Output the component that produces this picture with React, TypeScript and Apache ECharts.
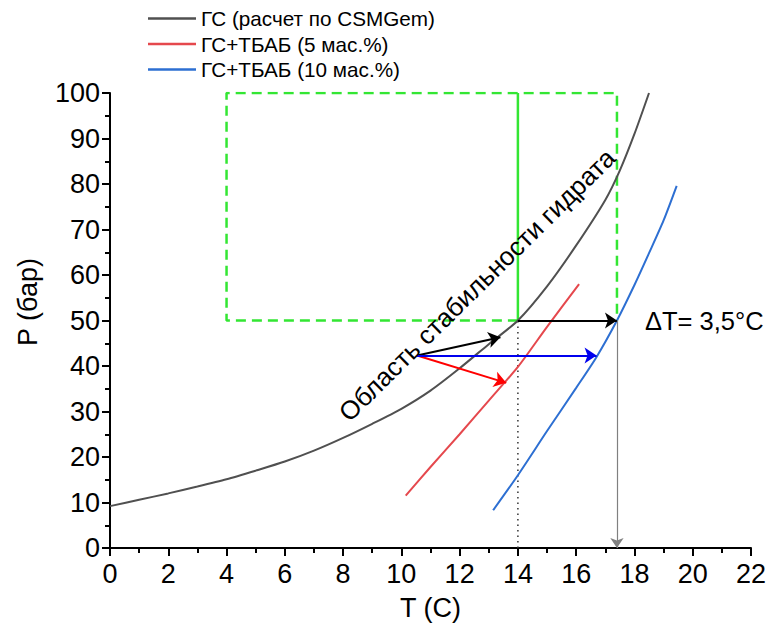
import React, { useEffect, useRef } from "react";
import * as echarts from "echarts";

const blackT = [0, 1, 2, 3, 4, 5, 6, 7, 8, 9, 10, 11, 12, 13, 14, 15, 16, 17, 17.5, 18, 18.5];
const blackP = [9.2, 10.6, 12, 13.5, 15.1, 17, 19, 21.4, 24.2, 27.3, 30.6, 34.6, 39.5, 44.8, 50, 57.5, 66.5, 76.5, 83, 91, 100];

const redT = [10.15, 11, 12, 13, 14, 15, 16.1];
const redP = [11.5, 17.8, 25, 32.4, 39.8, 48.6, 58];

const blueT = [13.15, 14, 15, 16, 16.7, 17.4, 18, 18.5, 19, 19.45];
const blueP = [8.3, 16, 25.7, 35.2, 42, 50, 57.8, 64.8, 72, 79.6];

const greenDashT = [14, 4, 4, 14, 17.4, 17.4];
const greenDashP = [50, 50, 100, 100, 100, 50];
const greenSolidT = [14, 14];
const greenSolidP = [50, 100];

const dottedT = [14, 14];
const dottedP = [0, 50];

const arrowStart = [10.54, 42.3];
const blackArrowEnd = [13.4, 46.3];
const redArrowEnd = [13.6, 36.3];
const blueArrowEnd = [16.7, 42.3];
const deltaArrow = [[14, 50], [17.4, 50]];
const downArrow = [[17.4, 50], [17.4, 0]];

const names = ["ГС (расчет по CSMGem)", "ГС+ТБАБ (5 мас.%)", "ГС+ТБАБ (10 мас.%)"];

const xMin = 0, xMax = 22, xStep = 2;
const yMin = 0, yMax = 100, yStep = 10;

const zip = (a: number[], b: number[]) => a.map((v, i) => [v, b[i]]);

const FONT = "'Liberation Sans', Arial, sans-serif";

export default function App() {
  const ref = useRef<HTMLDivElement>(null);
  useEffect(() => {
    if (!ref.current) return;
    const chart = echarts.init(ref.current, null, { renderer: "svg" });
    const arrowSeries = (name: string, coords: number[][], color: string, width: number, size: number) => ({
      name,
      type: "lines",
      coordinateSystem: "cartesian2d",
      symbol: ["none", "arrow"],
      symbolSize: size,
      silent: true,
      lineStyle: { color, width, opacity: 1, curveness: 0 },
      data: [{ coords }],
      z: 5,
    });
    const curve = (name: string, t: number[], p: number[], color: string) => ({
      name,
      type: "line",
      data: zip(t, p),
      smooth: 0.25,
      showSymbol: false,
      symbol: "none",
      lineStyle: { color, width: 2 },
      itemStyle: { color },
      z: 3,
    });
    chart.setOption({
      animation: false,
      textStyle: { fontFamily: FONT },
      grid: { left: 102, right: 12, top: 85, bottom: 82 },
      legend: {
        data: names.map((n) => ({ name: n, icon: "rect" })),
        orient: "vertical",
        left: 140,
        top: 0,
        padding: 0,
        itemWidth: 48,
        itemHeight: 2.5,
        itemGap: 4.5,
        textStyle: { fontSize: 20.7, color: "#000", fontFamily: FONT, lineHeight: 20.5 },
      },
      xAxis: {
        type: "value",
        min: xMin,
        max: xMax,
        interval: xStep,
        name: "T (C)",
        nameLocation: "middle",
        nameGap: 46,
        nameTextStyle: { fontSize: 27, color: "#000", fontFamily: FONT },
        axisLine: { show: true, lineStyle: { color: "#000", width: 2 } },
        axisTick: { show: true, inside: false, length: 8, lineStyle: { color: "#000", width: 2 } },
        minorTick: { show: true, splitNumber: 2, length: 5, lineStyle: { color: "#000", width: 2 } },
        axisLabel: { fontSize: 27, color: "#000", margin: 12, fontFamily: FONT },
        splitLine: { show: false },
      },
      yAxis: {
        type: "value",
        min: yMin,
        max: yMax,
        interval: yStep,
        axisLine: { show: true, lineStyle: { color: "#000", width: 2 } },
        axisTick: { show: true, inside: false, length: 8, lineStyle: { color: "#000", width: 2 } },
        minorTick: { show: true, splitNumber: 2, length: 5, lineStyle: { color: "#000", width: 2 } },
        axisLabel: { fontSize: 27, color: "#000", margin: 10, fontFamily: FONT },
        splitLine: { show: false },
      },
      series: [
        curve(names[0], blackT, blackP, "#505050"),
        curve(names[1], redT, redP, "#e5484d"),
        curve(names[2], blueT, blueP, "#2d6fd2"),
        {
          name: "greenDash",
          type: "line",
          data: zip(greenDashT, greenDashP),
          showSymbol: false,
          symbol: "none",
          silent: true,
          lineStyle: { color: "#33e633", width: 2.5, type: [10, 6] },
          z: 2,
        },
        {
          name: "greenSolid",
          type: "line",
          data: zip(greenSolidT, greenSolidP),
          showSymbol: false,
          symbol: "none",
          silent: true,
          lineStyle: { color: "#33e633", width: 2.5 },
          z: 2,
        },
        {
          name: "dotted",
          type: "line",
          data: zip(dottedT, dottedP),
          showSymbol: false,
          symbol: "none",
          silent: true,
          lineStyle: { color: "#333", width: 1.5, type: [1.5, 4] },
          z: 2,
        },
        arrowSeries("a1", [arrowStart, blackArrowEnd], "#000", 2, 12),
        arrowSeries("a2", [arrowStart, redArrowEnd], "#ff0000", 2, 12),
        arrowSeries("a3", [arrowStart, blueArrowEnd], "#0000ee", 2, 12),
        arrowSeries("a4", deltaArrow, "#000", 2, 12),
        arrowSeries("a5", downArrow, "#808080", 1.2, 10),
      ],
      graphic: [
        {
          type: "text",
          x: 20,
          y: 294,
          rotation: Math.PI / 2,
          style: {
            text: "P (бар)",
            fontSize: 27,
            fontFamily: FONT,
            fill: "#000",
            align: "center",
            verticalAlign: "middle",
          },
        },
        {
          type: "text",
          x: 469,
          y: 277,
          rotation: (44.5 * Math.PI) / 180,
          style: {
            text: "Область стабильности гидрата",
            fontSize: 26,
            fontFamily: FONT,
            fill: "#000",
            align: "center",
            verticalAlign: "middle",
          },
          z: 10,
        },
        {
          type: "text",
          x: 637,
          y: 313,
          style: {
            text: "ΔT= 3,5°C",
            fontSize: 25.5,
            fontFamily: FONT,
            fill: "#000",
            align: "left",
            verticalAlign: "middle",
          },
          z: 10,
        },
      ],
    });
    return () => chart.dispose();
  }, []);
  return <div ref={ref} style={{ width: 761, height: 622 }} />;
}
